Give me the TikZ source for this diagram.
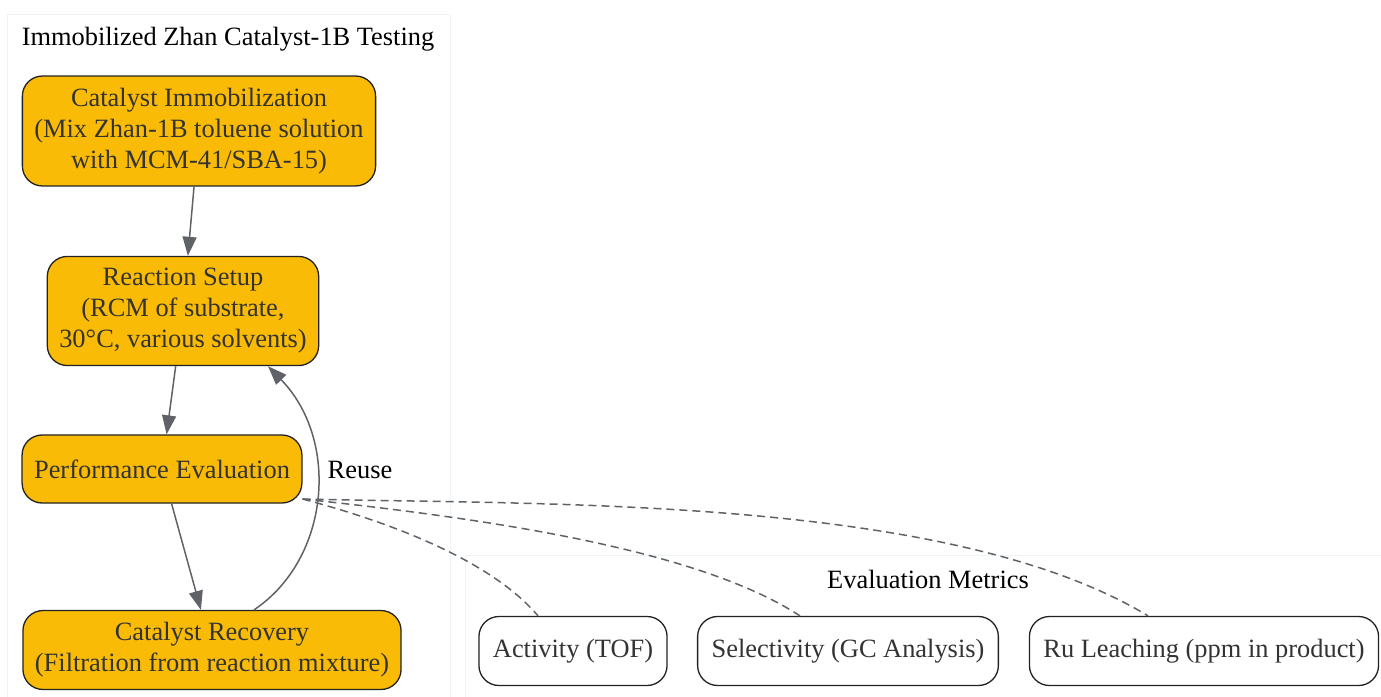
\documentclass[tikz,border=0pt]{standalone}
\usepackage{fontspec}
\setmainfont{Liberation Serif}
\usetikzlibrary{arrows.meta}

\definecolor{stagefill}{HTML}{F9BB06}
\definecolor{nodeline}{HTML}{222222}
\definecolor{nodetext}{HTML}{333333}
\definecolor{edgecolor}{HTML}{5F6368}
\definecolor{clustercolor}{HTML}{EEF3F6}

\tikzset{
  stage/.style={draw=nodeline, fill=stagefill, text=nodetext, line width=1.3pt,
    rounded corners=20pt, align=center, inner xsep=12pt, inner ysep=12pt,
    minimum height=68pt, font=\fontsize{26.4}{31}\selectfont},
  metric/.style={stage, fill=white, inner xsep=14pt, minimum height=69pt},
  cluster/.style={draw=clustercolor, line width=1pt},
  clustertitle/.style={font=\fontsize{26.4}{31}\selectfont, text=black, inner sep=0pt},
  flow/.style={draw=edgecolor, line width=1.5pt, -{Triangle[length=19pt,width=14pt]}},
  metricline/.style={draw=edgecolor, line width=1.5pt, dash pattern=on 8pt off 5pt}
}

\begin{document}
\begin{tikzpicture}[x=1pt,y=-1pt]
\useasboundingbox (0,0) rectangle (1381,696);

% clusters
\draw[cluster] (7,14) rectangle (450,710);
\draw[cluster] (465,555) rectangle (1395,710);
\node[clustertitle] (testing) at (228,39) {Immobilized Zhan Catalyst-1B Testing};
\node[clustertitle] (metrics) at (928,579) {Evaluation Metrics};

% stages
\node[stage] (immob) at (199,131) {Catalyst Immobilization\\(Mix Zhan-1B toluene solution\\with MCM-41/SBA-15)};
\node[stage] (setup) at (183,311) {Reaction Setup\\(RCM of substrate,\\30°C, various solvents)};
\node[stage] (perf) at (162,469) {Performance Evaluation};
\node[stage] (recov) at (212,650) {Catalyst Recovery\\(Filtration from reaction mixture)};

% metrics
\node[metric] (tof) at (573,651) {Activity (TOF)};
\node[metric] (select) at (848,651) {Selectivity (GC Analysis)};
\node[metric] (leach) at (1204,651) {Ru Leaching (ppm in product)};

\draw[flow] (immob) -- (setup);
\draw[flow] (setup) -- (perf);
\draw[flow] (perf) -- (recov);
\draw[flow] ([xshift=42pt]recov.north) .. controls +(76,-51) and +(72,74) .. ([xshift=85pt]setup.south);
\node[clustertitle] (reuse) at (360,470) {Reuse};

\draw[metricline] ([yshift=-30pt]perf.east) .. controls +(117,31) and +(-38,-45) .. ([xshift=-35pt]tof.north);
\draw[metricline] ([yshift=-30pt]perf.east) .. controls +(197,21) and +(-100,-65) .. ([xshift=-48pt]select.north);
\draw[metricline] ([yshift=-30pt]perf.east) .. controls +(247,6) and +(-198,-120) .. ([xshift=-56pt]leach.north);
\end{tikzpicture}
\end{document}
